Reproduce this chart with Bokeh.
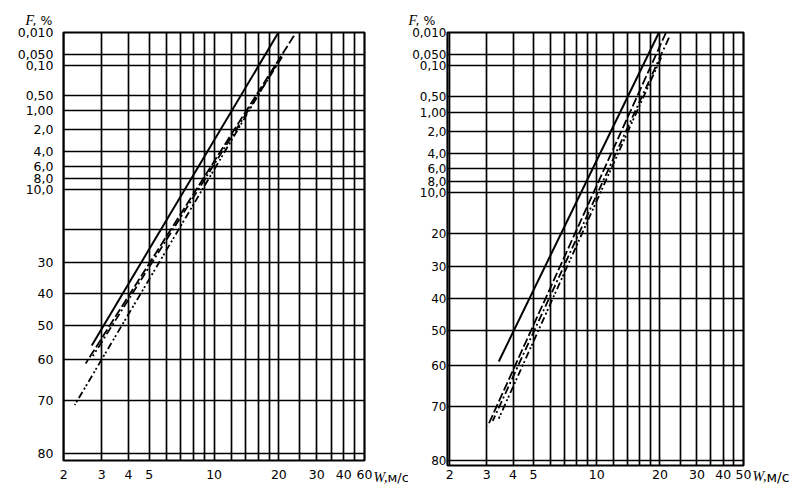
import math
from bokeh.plotting import figure
from bokeh.models import FixedTicker, Label, Range1d
from bokeh.layouts import row
from bokeh.embed import file_html
from bokeh.resources import INLINE

# ---------------- data ----------------
F_grid = [0.01, 0.05, 0.1, 0.5, 1, 2, 4, 6, 8, 10, 20, 30, 40, 50, 60, 70, 80]
F_labels = ["0,010", "0,050", "0,10", "0,50", "1,00", "2,0", "4,0", "6,0", "8,0",
            "10,0", "20", "30", "40", "50", "60", "70", "80"]
F_unlabeled_left = [20]

W_grid = [2, 3, 4, 5, 6, 7, 8, 9, 10, 12, 14, 16, 18, 20, 25, 30, 35, 40, 45]
W_ticks = [2, 3, 4, 5, 10, 20, 30, 40, 50]
W_labels_left = ["2", "3", "4", "5", "10", "20", "30", "40", "60"]
W_labels_right = ["2", "3", "4", "5", "10", "20", "30", "40", "50"]

# lines: (W at upper end, W at lower end), (F% at upper end, F% at lower end)
left_solid_W = [19.9, 2.70];   left_solid_F = [0.01, 56]
left_dash_W = [23.5, 2.53];    left_dash_F = [0.013, 61]
left_dashdot_W = [20.7, 2.73]; left_dashdot_F = [0.06, 59]
left_dd2_W = [19.4, 2.25];     left_dd2_F = [0.10, 71]

right_solid_W = [19.8, 3.42];   right_solid_F = [0.01, 59]
right_dash_W = [21.4, 3.03];    right_dash_F = [0.01, 74]
right_dashdot_W = [22.1, 3.20]; right_dashdot_F = [0.015, 73]
right_dd2_W = [20.3, 3.38];     right_dd2_F = [0.06, 73]


def wz(f):
    """Weibull probability-paper ordinate for exceedance F (%)."""
    return math.log(-math.log(f / 100.0))


FONT = "DejaVu Sans"


def make_panel(fw, fh, bl, br, bt, bb, x_start, y_bottom, wlabels,
               ylab_ticks, ystandoff, xstandoff, yfont):
    p = figure(frame_width=fw, frame_height=fh, x_axis_type="log",
               x_range=Range1d(x_start, 50), y_range=Range1d(y_bottom, wz(0.01)),
               output_backend="svg", toolbar_location=None,
               min_border_left=bl, min_border_right=br,
               min_border_top=bt, min_border_bottom=bb)
    p.background_fill_color = "white"
    p.border_fill_color = "white"
    p.outline_line_color = "black"
    p.outline_line_width = 2.2

    ytv = [wz(f) for f in F_grid]
    p.ygrid.ticker = FixedTicker(ticks=ytv)
    p.xgrid.ticker = FixedTicker(ticks=W_grid)
    for g in (p.xgrid, p.ygrid):
        g.grid_line_color = "black"
        g.grid_line_width = 1.7
        g.grid_line_alpha = 1.0

    yt = [wz(f) for f in ylab_ticks]
    p.yaxis.ticker = FixedTicker(ticks=yt)
    p.yaxis.major_label_overrides = {wz(f): F_labels[F_grid.index(f)] for f in ylab_ticks}
    p.xaxis.ticker = FixedTicker(ticks=W_ticks)
    p.xaxis.major_label_overrides = {w: l for w, l in zip(W_ticks, wlabels)}
    for ax in (p.xaxis, p.yaxis):
        ax.axis_line_color = None
        ax.major_tick_line_color = None
        ax.minor_tick_line_color = None
        ax.major_tick_in = 0
        ax.major_tick_out = 0
        ax.axis_label = None
        ax.axis_label_standoff = 0
        ax.major_label_text_font = FONT
        ax.major_label_text_font_size = "12.5px"
        ax.major_label_text_line_height = 1.0
        ax.major_label_text_color = "black"
    p.yaxis.major_label_text_font_size = yfont
    p.yaxis.major_label_standoff = ystandoff
    p.xaxis.major_label_standoff = xstandoff
    return p


def add_lines(p, sW, sF, dW, dF, ddW, ddF, d2W, d2F):
    p.line(sW, [wz(f) for f in sF], line_color="black", line_width=2.0)
    p.line(dW, [wz(f) for f in dF], line_color="black", line_width=1.8,
           line_dash="9 3")
    p.line(ddW, [wz(f) for f in ddF], line_color="black", line_width=1.8,
           line_dash="8 3 2 3")
    p.line(d2W, [wz(f) for f in d2F], line_color="black", line_width=1.8,
           line_dash="7 3 2 2 2 3")


def add_texts(p, fx, fy, wx, wy, wsize):
    # "F, %" above the frame (side panels stack outward: second one is 15px higher)
    p.add_layout(Label(x=fx, y=fy, x_units="screen", y_units="screen", text="F",
                       text_font="Liberation Serif", text_font_style="italic",
                       text_font_size="14px", text_baseline="middle", text_align="left",
                       text_color="black"), "above")
    p.add_layout(Label(x=fx + 7, y=fy - 15, x_units="screen", y_units="screen", text=", %",
                       text_font=FONT, text_font_size="12.5px", text_baseline="middle",
                       text_align="left", text_color="black"), "above")
    # "W,м/с" right of the frame, on the tick-label row (second panel is 15px further right)
    p.add_layout(Label(x=wx, y=wy, x_units="screen", y_units="screen", text="W,",
                       text_font="Liberation Serif", text_font_style="italic",
                       text_font_size="14px", text_baseline="middle", text_align="left",
                       text_color="black"), "right")
    p.add_layout(Label(x=wx, y=wy, x_units="screen", y_units="screen", text="м/с",
                       text_font=FONT, text_font_size=wsize, text_baseline="middle",
                       text_align="left", text_color="black"), "right")


left_ticks = [f for f in F_grid if f not in F_unlabeled_left]
pl = make_panel(301, 428, 63, 44, 32, 25, 1.995, -1.562, W_labels_left, left_ticks,
                10, 9, "12.5px")
add_lines(pl, left_solid_W, left_solid_F, left_dash_W, left_dash_F,
          left_dashdot_W, left_dashdot_F, left_dd2_W, left_dd2_F)
add_texts(pl, -38, 12, 9, -17, "13px")

pr = make_panel(296, 433, 39, 55, 32, 25, 1.95, -1.543, W_labels_right, F_grid,
                1, 4, "12px")
add_lines(pr, right_solid_W, right_solid_F, right_dash_W, right_dash_F,
          right_dashdot_W, right_dashdot_F, right_dd2_W, right_dd2_F)
add_texts(pr, -39, 12, 9, -11, "14px")

layout = row(pl, pr)
open("out.html", "w").write(file_html(layout, INLINE))
